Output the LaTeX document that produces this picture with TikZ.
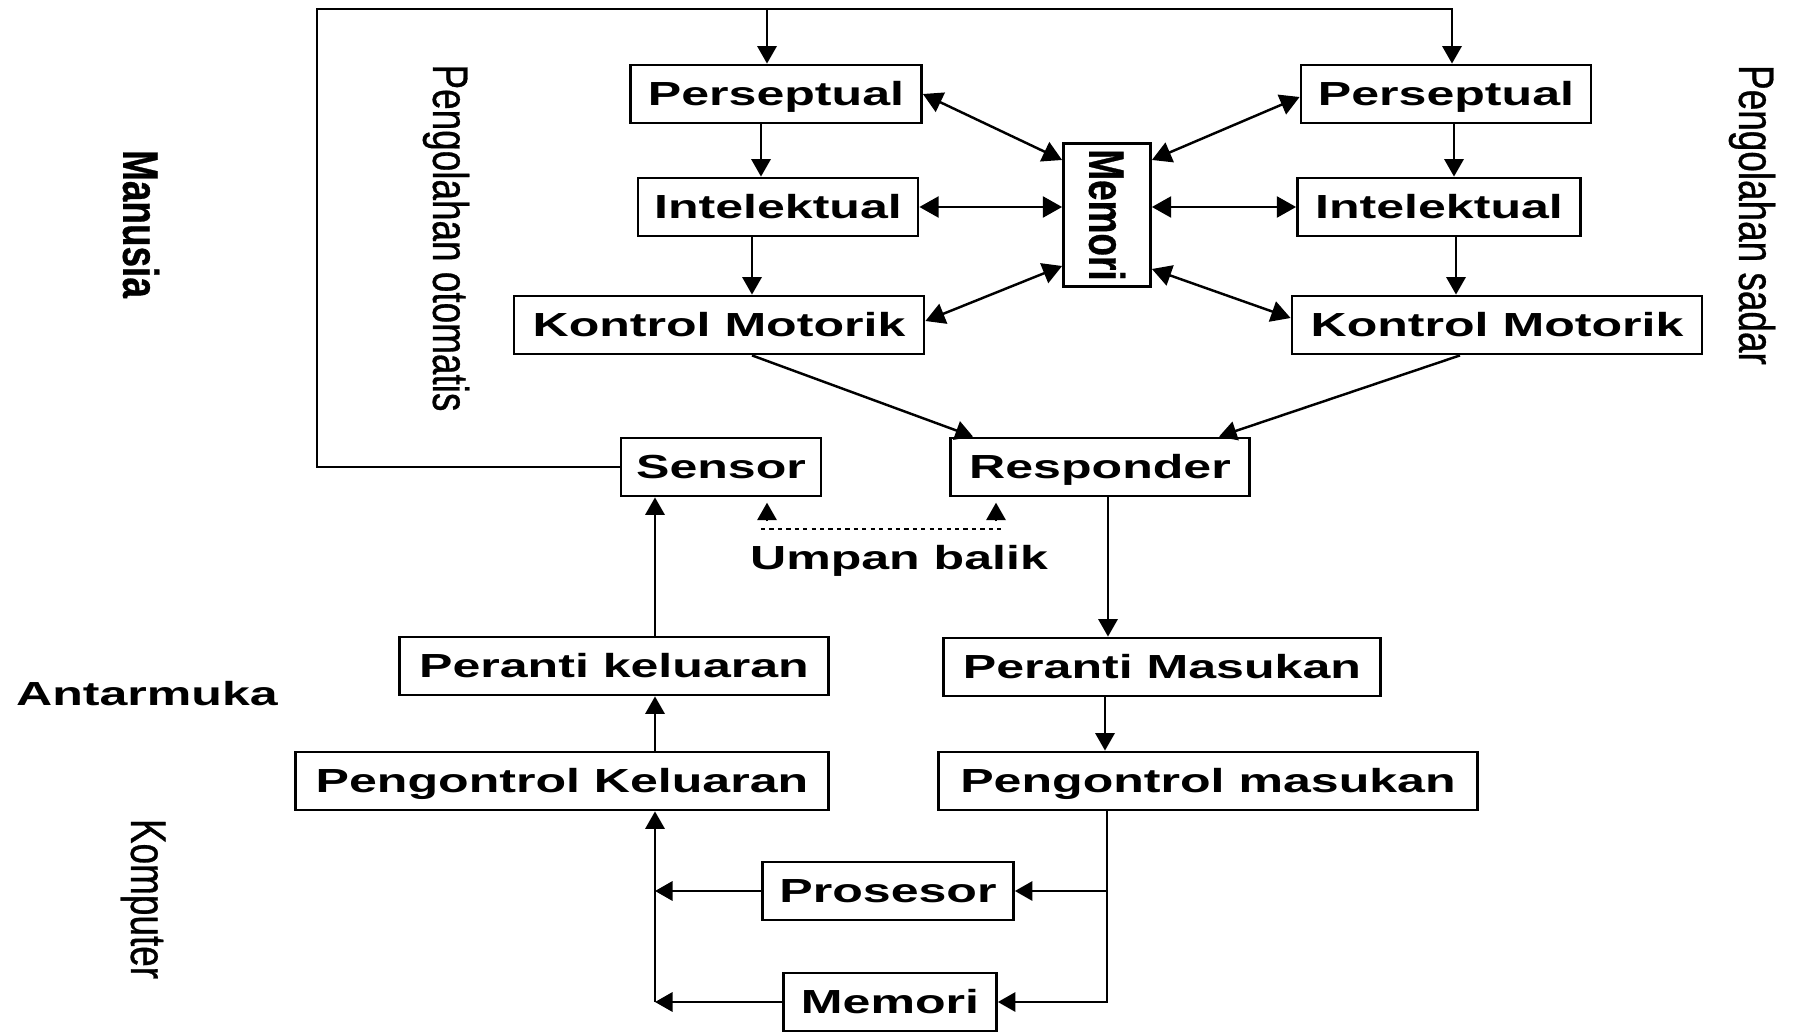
\documentclass[tikz,border=0pt]{standalone}
\usepackage{fontspec}
\setmainfont{Liberation Sans}[FakeStretch = 1.5]
\newfontfamily\rotfont{Liberation Sans}[FakeStretch = 0.74, FakeBold = 0.6]
\usetikzlibrary{arrows.meta}

\tikzset{
	kotak/.style = {draw, black, line width = 0.8pt, inner sep = 0pt, minimum height = 0.58cm, text height = 6.9pt, text depth = 0.4pt, font = \fontsize{9.5}{11}\selectfont\bfseries},
	label/.style = {black, inner sep = 0pt, font = \fontsize{9.5}{11}\selectfont\bfseries},
	labelrot/.style = {black, inner sep = 0pt, rotate = -90, font = \fontsize{14.2}{16}\rotfont},
	panah/.style = {solid, black, line width = 0.7pt, -{Triangle[length = 5pt, width = 5.5pt]}},
	panahdua/.style = {solid, black, line width = 0.7pt, {Triangle[length = 5.5pt, width = 6pt]}-{Triangle[length = 5.5pt, width = 6pt]}}
}

\begin{document}
\begin{tikzpicture}[scale = 1]

	\useasboundingbox (0, 0) rectangle (17.95, -10.34);

	% manusia
	\node[kotak, minimum width = 2.91cm] (persL) at (7.76, -0.94) {Perseptual};
	\node[kotak, minimum width = 2.80cm] (intL) at (7.78, -2.07) {Intelektual};
	\node[kotak, minimum width = 4.10cm] (konL) at (7.19, -3.25) {Kontrol Motorik};
	\node[kotak, minimum width = 0.87cm, minimum height = 1.43cm, text height = , text depth = , font = \fontsize{14.2}{16}\rotfont\bfseries] (mem) at (11.07, -2.15) {\rotatebox{-90}{Memori}};
	\node[kotak, minimum width = 2.90cm] (persR) at (14.46, -0.94) {Perseptual};
	\node[kotak, minimum width = 2.83cm] (intR) at (14.39, -2.07) {Intelektual};
	\node[kotak, minimum width = 4.10cm] (konR) at (14.97, -3.25) {Kontrol Motorik};
	\node[kotak, minimum width = 2.00cm] (sensor) at (7.21, -4.67) {Sensor};
	\node[kotak, minimum width = 2.99cm] (resp) at (11.00, -4.67) {Responder};

	% antarmuka
	\node[kotak, minimum width = 4.29cm] (perKel) at (6.14, -6.66) {Peranti keluaran};
	\node[kotak, minimum width = 4.37cm] (perMas) at (11.62, -6.67) {Peranti Masukan};
	\node[kotak, minimum width = 5.33cm] (pengKel) at (5.62, -7.81) {Pengontrol Keluaran};
	\node[kotak, minimum width = 5.39cm] (pengMas) at (12.08, -7.81) {Pengontrol masukan};

	% komputer
	\node[kotak, minimum width = 2.51cm] (pros) at (8.88, -8.91) {Prosesor};
	\node[kotak, minimum width = 2.13cm] (memB) at (8.90, -10.02) {Memori};

	\node[labelrot, font = \fontsize{14.2}{16}\rotfont\bfseries] (manusia) at (1.41, -2.24) {Manusia};
	\node[labelrot] (otomatis) at (4.46, -2.38) {Pengolahan otomatis};
	\node[labelrot] (sadar) at (17.52, -2.15) {Pengolahan sadar};
	\node[label] (antarmuka) at (1.47, -6.94) {Antarmuka};
	\node[labelrot] (komputer) at (1.43, -8.99) {Komputer};
	\node[label] (umpan) at (8.99, -5.61) {Umpan balik};

	\coordinate (kiri) at (3.17, -0.09);
	\coordinate (atas) at (7.67, -0.09);
	\coordinate (kolom) at (6.55, 0);
	\coordinate (ubKiri) at (7.61, -5.29);
	\coordinate (ubKanan) at (10.05, -5.29);

	\draw[panah] (sensor.west) -| (kiri) -| ([xshift = 0.06cm]persR.north);
	\draw[panah] (atas) -- (atas |- persL.north);

	\draw[panah] ([xshift = -0.15cm]persL.south) -- ([xshift = -0.15cm]persL.south |- intL.north);
	\draw[panah] ([xshift = -0.26cm]intL.south) -- ([xshift = -0.26cm]intL.south |- konL.north);
	\draw[panah] ([xshift = 0.08cm]persR.south) -- ([xshift = 0.08cm]persR.south |- intR.north);
	\draw[panah] ([xshift = 0.17cm]intR.south) -- ([xshift = 0.17cm]intR.south |- konR.north);

	\draw[panahdua] (persL.east) -- ([yshift = 0.55cm]mem.west);
	\draw[panahdua] (intL.east) -- (intL.east -| mem.west);
	\draw[panahdua] ([yshift = 0.04cm]konL.east) -- ([yshift = -0.51cm]mem.west);
	\draw[panahdua] ([yshift = 0.55cm]mem.east) -- ([yshift = -0.03cm]persR.west);
	\draw[panahdua] (intR.west -| mem.east) -- (intR.west);
	\draw[panahdua] ([yshift = -0.54cm]mem.east) -- ([yshift = 0.07cm]konR.west);

	\draw[panah] ([xshift = 0.33cm]konL.south) -- ([xshift = -1.27cm]resp.north);
	\draw[panah] ([xshift = -0.37cm]konR.south) -- ([xshift = 1.19cm]resp.north);

	% umpan balik
	\draw[black, line width = 0.7pt, dash pattern = on 1.2pt off 1.2pt] (ubKiri) -- (ubKanan);
	\draw[panah, shorten >= 1.5pt] ([shift = {(0.46cm, -0.24cm)}]sensor.south) -- ([xshift = 0.46cm]sensor.south);
	\draw[panah, shorten >= 1.5pt] ([shift = {(-1.04cm, -0.24cm)}]resp.south) -- ([xshift = -1.04cm]resp.south);

	\draw[panah] ([xshift = 0.08cm]resp.south) -- ([xshift = 0.08cm]resp.south |- perMas.north);
	\draw[panah] ([xshift = -0.57cm]perMas.south) -- ([xshift = -0.57cm]perMas.south |- pengMas.north);
	\draw[panah] ([xshift = -1.01cm]pengMas.south) |- (pros.east);
	\draw[panah] ([xshift = -1.01cm]pengMas.south) |- (memB.east);

	\draw[panah] (pros.west) -- (pros.west -| kolom);
	\draw[panah] (memB.west) -- (memB.west -| kolom);
	\draw[panah] (memB.west -| kolom) -- (kolom |- pengKel.south);
	\draw[panah] (kolom |- pengKel.north) -- (kolom |- perKel.south);
	\draw[panah] (kolom |- perKel.north) -- (kolom |- sensor.south);

\end{tikzpicture}
\end{document}
